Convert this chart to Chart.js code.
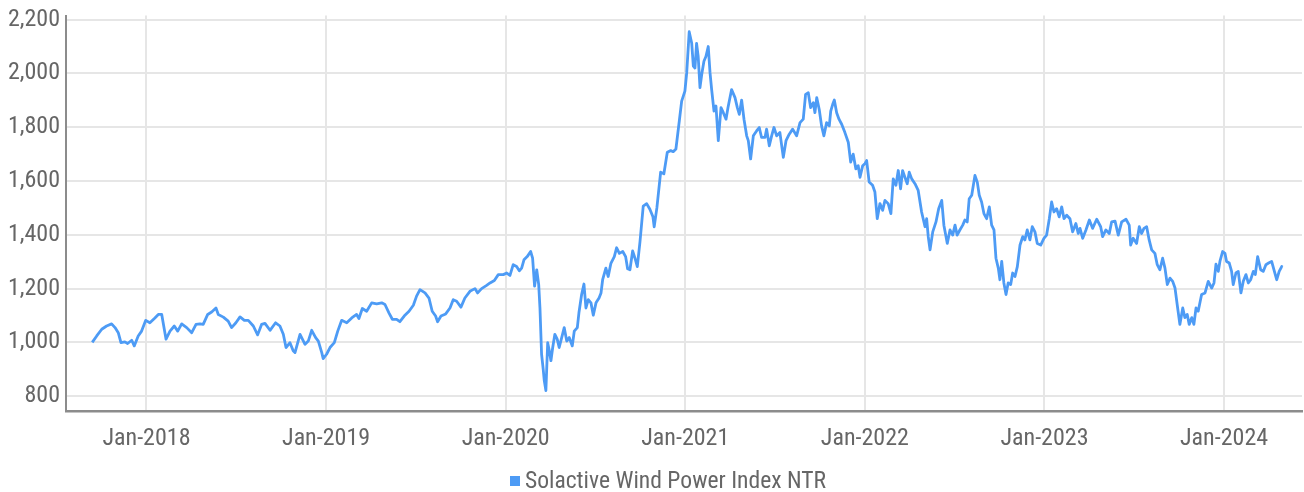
<!DOCTYPE html>
<html>
<head>
<meta charset="utf-8">
<title>Solactive Wind Power Index NTR</title>
<script src="https://cdn.jsdelivr.net/npm/chart.js@4.4.1/dist/chart.umd.min.js"></script>
<style>
    html, body { margin: 0; padding: 0; background: #fff; }
    #wrap { position: relative; width: 1304px; height: 492px; }
    #legend {
        position: absolute; left: 32px; right: 0; top: 466px;
        text-align: center; color: #666;
        font: 23.6px 'Liberation Sans Narrow', 'Roboto Condensed', 'DejaVu Sans Condensed', Roboto, sans-serif;
    }
    #legend .box { display: inline-block; width: 10px; height: 10px; background: #4d9bf5; margin-right: 5px; vertical-align: 2px; }
</style>
</head>
<body>
<div id="wrap">
    <canvas id="graficoIndice" width="1304" height="492"></canvas>
    <div id="legend"><span class="box"></span>Solactive Wind Power Index NTR</div>
</div>
<script>
// Dados (tempo em anos decimais)
const seriesName = 'Solactive Wind Power Index NTR';

const years = [
    2017.698, 2017.723, 2017.751, 2017.778, 2017.806, 2017.825, 2017.843, 2017.858, 2017.880, 2017.895,
    2017.918, 2017.932, 2017.954, 2017.973, 2017.996, 2018.019, 2018.047, 2018.066, 2018.085, 2018.109,
    2018.131, 2018.155, 2018.174, 2018.196, 2018.224, 2018.252, 2018.276, 2018.298, 2018.316, 2018.341,
    2018.363, 2018.387, 2018.400, 2018.428, 2018.455, 2018.474, 2018.498, 2018.521, 2018.545, 2018.567,
    2018.595, 2018.619, 2018.641, 2018.660, 2018.688, 2018.719, 2018.743, 2018.762, 2018.777, 2018.799,
    2018.817, 2018.827, 2018.855, 2018.883, 2018.901, 2018.920, 2018.942, 2018.957, 2018.976, 2018.984,
    2019.003, 2019.022, 2019.046, 2019.065, 2019.087, 2019.115, 2019.143, 2019.170, 2019.183, 2019.202,
    2019.226, 2019.254, 2019.282, 2019.310, 2019.328, 2019.350, 2019.369, 2019.393, 2019.411, 2019.435,
    2019.462, 2019.486, 2019.504, 2019.523, 2019.551, 2019.573, 2019.591, 2019.610, 2019.621, 2019.640,
    2019.666, 2019.690, 2019.708, 2019.727, 2019.751, 2019.773, 2019.801, 2019.829, 2019.844, 2019.866,
    2019.894, 2019.913, 2019.937, 2019.959, 2019.987, 2020.006, 2020.024, 2020.042, 2020.061, 2020.076,
    2020.089, 2020.102, 2020.120, 2020.139, 2020.150, 2020.161, 2020.173, 2020.184, 2020.191, 2020.200,
    2020.209, 2020.215, 2020.224, 2020.234, 2020.243, 2020.252, 2020.262, 2020.274, 2020.287, 2020.298,
    2020.312, 2020.326, 2020.340, 2020.354, 2020.371, 2020.382, 2020.399, 2020.408, 2020.423, 2020.436,
    2020.447, 2020.460, 2020.475, 2020.488, 2020.503, 2020.520, 2020.531, 2020.540, 2020.558, 2020.571,
    2020.586, 2020.605, 2020.618, 2020.633, 2020.652, 2020.668, 2020.679, 2020.692, 2020.707, 2020.720,
    2020.733, 2020.748, 2020.766, 2020.785, 2020.803, 2020.820, 2020.827, 2020.842, 2020.863, 2020.881,
    2020.900, 2020.919, 2020.933, 2020.948, 2020.967, 2020.980, 2020.998, 2021.008, 2021.022, 2021.036,
    2021.045, 2021.054, 2021.063, 2021.072, 2021.082, 2021.093, 2021.104, 2021.115, 2021.128, 2021.138,
    2021.147, 2021.160, 2021.171, 2021.184, 2021.199, 2021.212, 2021.227, 2021.238, 2021.258, 2021.277,
    2021.290, 2021.301, 2021.314, 2021.327, 2021.342, 2021.351, 2021.364, 2021.379, 2021.398, 2021.412,
    2021.425, 2021.444, 2021.453, 2021.468, 2021.481, 2021.494, 2021.509, 2021.527, 2021.546, 2021.561,
    2021.579, 2021.598, 2021.620, 2021.639, 2021.657, 2021.670, 2021.685, 2021.698, 2021.713, 2021.722,
    2021.732, 2021.746, 2021.759, 2021.772, 2021.787, 2021.802, 2021.810, 2021.821, 2021.830, 2021.843,
    2021.856, 2021.871, 2021.889, 2021.908, 2021.921, 2021.935, 2021.950, 2021.963, 2021.973, 2021.988,
    2022.001, 2022.010, 2022.024, 2022.043, 2022.056, 2022.069, 2022.084, 2022.099, 2022.112, 2022.130,
    2022.145, 2022.158, 2022.173, 2022.186, 2022.199, 2022.210, 2022.223, 2022.236, 2022.247, 2022.261,
    2022.279, 2022.297, 2022.316, 2022.335, 2022.344, 2022.353, 2022.363, 2022.378, 2022.396, 2022.411,
    2022.428, 2022.440, 2022.452, 2022.459, 2022.474, 2022.489, 2022.502, 2022.514, 2022.529, 2022.545,
    2022.557, 2022.570, 2022.581, 2022.595, 2022.613, 2022.626, 2022.637, 2022.650, 2022.663, 2022.678,
    2022.693, 2022.706, 2022.719, 2022.730, 2022.743, 2022.752, 2022.762, 2022.774, 2022.786, 2022.798,
    2022.812, 2022.823, 2022.836, 2022.849, 2022.864, 2022.879, 2022.891, 2022.904, 2022.919, 2022.932,
    2022.947, 2022.960, 2022.979, 2022.997, 2023.012, 2023.027, 2023.040, 2023.053, 2023.068, 2023.082,
    2023.096, 2023.109, 2023.124, 2023.142, 2023.157, 2023.175, 2023.188, 2023.198, 2023.213, 2023.231,
    2023.250, 2023.268, 2023.291, 2023.313, 2023.324, 2023.342, 2023.361, 2023.374, 2023.393, 2023.411,
    2023.430, 2023.454, 2023.472, 2023.480, 2023.494, 2023.513, 2023.528, 2023.541, 2023.554, 2023.569,
    2023.583, 2023.597, 2023.615, 2023.628, 2023.643, 2023.658, 2023.671, 2023.684, 2023.699, 2023.714,
    2023.727, 2023.739, 2023.754, 2023.770, 2023.782, 2023.795, 2023.806, 2023.820, 2023.832, 2023.844,
    2023.856, 2023.875, 2023.894, 2023.912, 2023.931, 2023.944, 2023.955, 2023.968, 2023.977, 2023.992,
    2024.005, 2024.014, 2024.029, 2024.042, 2024.051, 2024.066, 2024.079, 2024.094, 2024.107, 2024.122,
    2024.135, 2024.148, 2024.163, 2024.174, 2024.187, 2024.204, 2024.218, 2024.233, 2024.248, 2024.265,
    2024.278, 2024.293, 2024.307, 2024.321, 2024.326
];

const indexValues = [
    1000, 1024, 1049, 1061, 1069, 1055, 1036, 999, 1002, 996,
    1008, 987, 1024, 1042, 1082, 1073, 1091, 1104, 1104, 1012,
    1042, 1061, 1042, 1069, 1055, 1036, 1067, 1069, 1067, 1104,
    1113, 1128, 1104, 1094, 1079, 1055, 1073, 1095, 1082, 1082,
    1061, 1028, 1067, 1071, 1045, 1073, 1061, 1030, 981, 999,
    969, 962, 1030, 993, 1005, 1045, 1018, 1005, 962, 940,
    956, 981, 999, 1042, 1082, 1073, 1091, 1104, 1089, 1126,
    1116, 1147, 1143, 1147, 1141, 1110, 1086, 1086, 1077, 1098,
    1116, 1138, 1172, 1196, 1184, 1165, 1116, 1098, 1077, 1098,
    1106, 1128, 1159, 1153, 1131, 1165, 1190, 1200, 1184, 1200,
    1212, 1221, 1230, 1252, 1252, 1258, 1249, 1289, 1282, 1266,
    1276, 1307, 1319, 1338, 1313, 1209, 1270, 1215, 1128, 956,
    901, 858, 821, 999, 969, 932, 981, 1030, 1012, 981,
    1018, 1055, 1005, 1018, 987, 1042, 1055, 1110, 1178, 1217,
    1128, 1159, 1147, 1101, 1147, 1165, 1184, 1233, 1276, 1245,
    1294, 1319, 1352, 1331, 1338, 1319, 1274, 1270, 1340, 1313,
    1282, 1375, 1507, 1516, 1495, 1467, 1430, 1500, 1633, 1627,
    1707, 1713, 1709, 1719, 1824, 1897, 1934, 2002, 2155, 2112,
    2027, 2020, 2112, 2063, 1947, 2002, 2045, 2063, 2100, 2002,
    1940, 1860, 1879, 1750, 1873, 1854, 1830, 1873, 1940, 1910,
    1873, 1848, 1901, 1830, 1768, 1750, 1682, 1768, 1787, 1799,
    1762, 1762, 1793, 1731, 1768, 1799, 1768, 1780, 1688, 1750,
    1774, 1793, 1768, 1817, 1830, 1922, 1928, 1873, 1891, 1854,
    1910, 1866, 1805, 1768, 1817, 1805, 1860, 1885, 1901, 1854,
    1830, 1811, 1780, 1743, 1670, 1700, 1645, 1657, 1614, 1657,
    1665, 1676, 1596, 1584, 1559, 1460, 1516, 1491, 1528, 1516,
    1479, 1608, 1584, 1639, 1571, 1639, 1614, 1590, 1633, 1608,
    1590, 1565, 1485, 1430, 1460, 1393, 1344, 1411, 1448, 1497,
    1528, 1436, 1393, 1368, 1418, 1399, 1436, 1399, 1418, 1436,
    1455, 1448, 1534, 1547, 1621, 1596, 1547, 1522, 1479, 1460,
    1504, 1436, 1418, 1313, 1276, 1233, 1301, 1221, 1178, 1221,
    1215, 1258, 1245, 1282, 1362, 1393, 1381, 1418, 1381, 1430,
    1411, 1368, 1362, 1387, 1399, 1460, 1522, 1485, 1497, 1467,
    1504, 1460, 1473, 1460, 1411, 1442, 1405, 1424, 1387, 1418,
    1455, 1424, 1458, 1430, 1393, 1418, 1405, 1448, 1451, 1399,
    1448, 1458, 1436, 1362, 1387, 1368, 1430, 1405, 1424, 1430,
    1381, 1344, 1331, 1289, 1270, 1313, 1276, 1215, 1239, 1227,
    1202, 1141, 1067, 1128, 1092, 1104, 1067, 1092, 1067, 1128,
    1116, 1178, 1184, 1227, 1202, 1221, 1291, 1264, 1301, 1338,
    1331, 1301, 1295, 1264, 1215, 1258, 1264, 1184, 1227, 1252,
    1221, 1233, 1264, 1252, 1319, 1270, 1264, 1289, 1295, 1301,
    1270, 1233, 1264, 1282, 1280
];

// Eixos
const xTickYears = [2018, 2019, 2020, 2021, 2022, 2023, 2024];
const xTickLabels = ['Jan-2018', 'Jan-2019', 'Jan-2020', 'Jan-2021', 'Jan-2022', 'Jan-2023', 'Jan-2024'];
const yTicks = [800, 1000, 1200, 1400, 1600, 1800, 2000, 2200];

const fontFamily = "'Liberation Sans Narrow', 'Roboto Condensed', 'DejaVu Sans Condensed', Roboto, sans-serif";
const lineColor = '#4d9bf5';

let chartIndice;

function initChart() {
    const ctx = document.getElementById('graficoIndice').getContext('2d');
    chartIndice = new Chart(ctx, {
        type: 'line',
        data: {
            datasets: [{
                label: seriesName,
                data: years.map((x, i) => ({ x: x, y: indexValues[i] })),
                borderColor: lineColor,
                backgroundColor: lineColor,
                borderWidth: 2.8,
                borderJoinStyle: 'round',
                pointRadius: 0,
                tension: 0,
                fill: false
            }]
        },
        options: {
            responsive: false,
            animation: false,
            layout: { padding: { top: 12, right: 2, bottom: 0, left: 0 } },
            plugins: {
                legend: { display: false },
                tooltip: { enabled: false }
            },
            scales: {
                x: {
                    type: 'linear',
                    min: 2017.552,
                    max: 2024.434,
                    afterBuildTicks: axis => { axis.ticks = xTickYears.map(v => ({ value: v })); },
                    afterFit: axis => { axis.height = 81; },
                    grid: { color: '#e6e6e6', lineWidth: 2, drawTicks: false },
                    border: { color: '#8c8c8c', width: 2.5 },
                    ticks: {
                        padding: 14,
                        color: '#666',
                        maxRotation: 0,
                        autoSkip: false,
                        font: { family: fontFamily, size: 24 },
                        callback: (value, index) => xTickLabels[index]
                    }
                },
                y: {
                    min: 745,
                    max: 2215,
                    afterBuildTicks: axis => { axis.ticks = yTicks.map(v => ({ value: v })); },
                    afterFit: axis => { axis.width = 66; },
                    grid: { color: '#e6e6e6', lineWidth: 2, drawTicks: false },
                    border: { color: '#8c8c8c', width: 2 },
                    ticks: {
                        padding: 6,
                        color: '#666',
                        font: { family: fontFamily, size: 24, lineHeight: 0.8 },
                        callback: value => value.toLocaleString('en-US')
                    }
                }
            }
        }
    });
}

document.addEventListener('DOMContentLoaded', function () {
    initChart();
});
</script>
</body>
</html>
